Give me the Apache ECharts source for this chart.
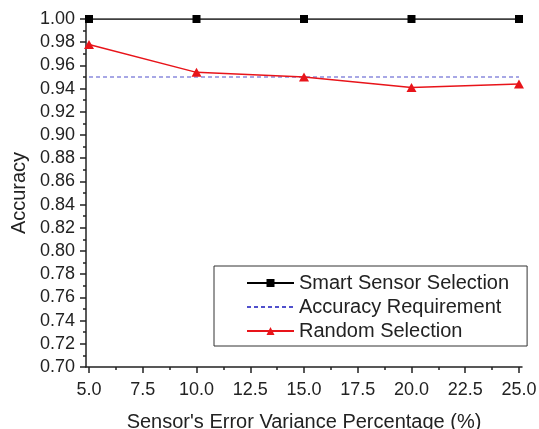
<!DOCTYPE html>
<html>
<head>
<meta charset="utf-8">
<script src="https://cdn.jsdelivr.net/npm/echarts@6/dist/echarts.min.js"></script>
<style>
  html, body { margin: 0; padding: 0; background: #fff; }
  #chart { width: 539px; height: 429px; }
</style>
</head>
<body>
<div id="chart"></div>
<script>
// data
const variance = [5, 10, 15, 20, 25]
const smartSelection = [1.0, 1.0, 1.0, 1.0, 1.0]
const randomSelection = [0.978, 0.954, 0.950, 0.941, 0.944]
const requirement = [0.95, 0.95, 0.95, 0.95, 0.95]
const xTicks = [5, 7.5, 10, 12.5, 15, 17.5, 20, 22.5, 25]
const xMinorTicks = [6.25, 8.75, 11.25, 13.75, 16.25, 18.75, 21.25, 23.75]

const font = 'Liberation Sans, Arial, sans-serif'
const ink = '#222'

const pairs = (ys) => variance.map((x, i) => [x, ys[i]])

const chart = echarts.init(document.getElementById('chart'))

const option = {
  animation: false,
  textStyle: { fontFamily: font, color: ink },
  grid: { left: 86, right: 17, top: 19, bottom: 62, containLabel: false, outerBoundsMode: 'none' },
  legend: {
    orient: 'vertical',
    left: 214,
    top: 266,
    width: 311,
    padding: [7, 18, 5, 32],
    borderColor: '#333',
    borderWidth: 1,
    itemWidth: 47,
    itemHeight: 10,
    itemGap: 4,
    textStyle: { fontSize: 20, color: ink, fontFamily: font, lineHeight: 20 },
    data: [
      'Smart Sensor Selection',
      { name: 'Accuracy Requirement', itemStyle: { opacity: 0 } },
      'Random Selection'
    ]
  },
  xAxis: [
    {
      type: 'value',
      min: 4.86,
      max: 25.14,
      name: "Sensor's Error Variance Percentage (%)",
      nameLocation: 'middle',
      nameGap: 45,
      nameTextStyle: { fontSize: 20, color: ink },
      splitLine: { show: false },
      axisLine: { lineStyle: { color: ink, width: 1.5 } },
      axisTick: { customValues: xTicks, length: 6, lineStyle: { color: ink, width: 1.5 } },
      axisLabel: { customValues: xTicks, fontSize: 18, color: ink, margin: 14,
        formatter: (v) => v.toFixed(1) }
    },
    {
      type: 'value',
      position: 'bottom',
      min: 4.86,
      max: 25.14,
      splitLine: { show: false },
      axisLine: { show: false },
      axisTick: { customValues: xMinorTicks, length: 3, lineStyle: { color: ink, width: 1.5 } },
      axisLabel: { show: false, customValues: xMinorTicks }
    }
  ],
  yAxis: {
    type: 'value',
    min: 0.70,
    max: 1.00,
    interval: 0.02,
    name: 'Accuracy',
    nameLocation: 'middle',
    nameGap: 55,
    nameTextStyle: { fontSize: 20, color: ink },
    splitLine: { show: false },
    axisLine: { show: true, lineStyle: { color: ink, width: 1.5 } },
    axisTick: { show: true, length: 6, lineStyle: { color: ink, width: 1.5 } },
    minorTick: { show: true, splitNumber: 2, length: 3, lineStyle: { color: ink, width: 1.5 } },
    axisLabel: { fontSize: 18, color: ink, margin: 11, formatter: (v) => v.toFixed(2) }
  },
  series: [
    {
      name: 'Smart Sensor Selection',
      type: 'line',
      data: pairs(smartSelection),
      symbol: 'rect',
      symbolSize: 8,
      itemStyle: { color: '#000' },
      lineStyle: { color: '#000', width: 1.5 },
      z: 3
    },
    {
      name: 'Accuracy Requirement',
      type: 'line',
      data: pairs(requirement),
      symbol: 'none',
      itemStyle: { color: '#5050cc' },
      lineStyle: { color: '#5050cc', width: 1.2, type: [4, 3] },
      z: 2
    },
    {
      name: 'Random Selection',
      type: 'line',
      data: pairs(randomSelection),
      symbol: 'triangle',
      symbolSize: [10, 9],
      itemStyle: { color: '#e8141a' },
      lineStyle: { color: '#e8141a', width: 1.5 },
      z: 4
    }
  ]
}

chart.setOption(option)
</script>
</body>
</html>
